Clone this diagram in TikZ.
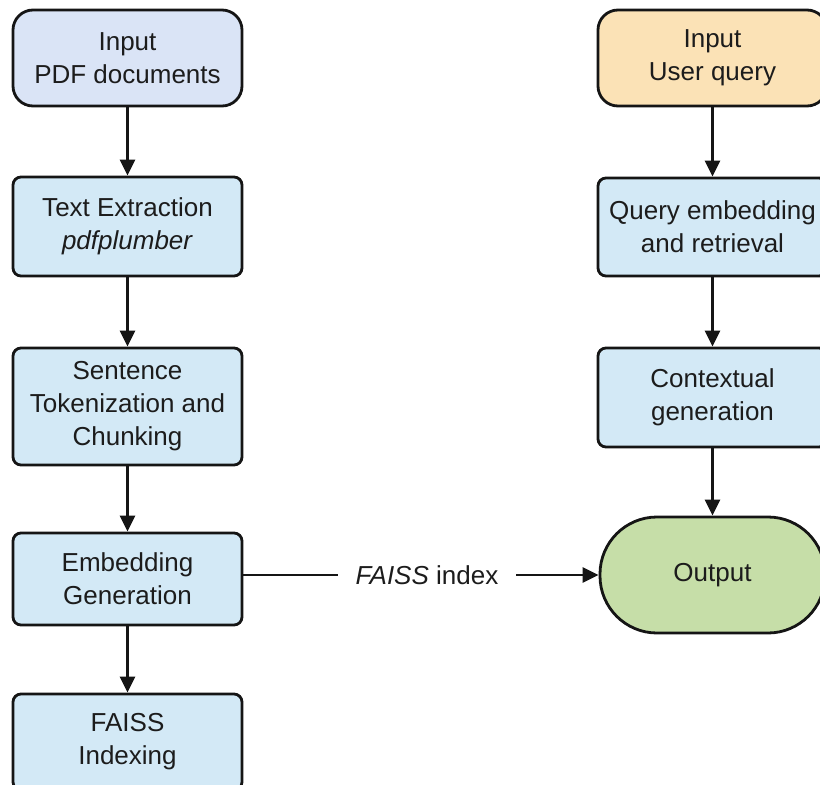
\documentclass[tikz,border=0pt]{standalone}
\usepackage{fontspec}
\setmainfont{Liberation Sans}
\usetikzlibrary{arrows.meta}
\definecolor{pdfblue}{HTML}{DAE4F6}
\definecolor{stepblue}{HTML}{D3E9F6}
\definecolor{queryorange}{HTML}{FBE2B6}
\definecolor{outgreen}{HTML}{C6DEA8}
\definecolor{edge}{HTML}{151515}
\definecolor{txt}{HTML}{1C1C1C}
\tikzset{
  box/.style={draw=edge, line width=2.8pt, fill=stepblue, rounded corners=8pt,
    minimum width=229pt, align=center, inner sep=0pt, text=txt,
    font=\fontsize{26pt}{33pt}\selectfont},
  inbox/.style={box, rounded corners=20pt},
  outbox/.style={box, fill=outgreen, rounded corners=57pt, minimum width=225pt},
  flow/.style={draw=edge, line width=2.8pt, -{Triangle[length=16pt,width=15pt]}},
  plain/.style={draw=edge, line width=2.8pt},
  lbl/.style={inner xsep=18pt, inner ysep=2pt, text=txt, font=\fontsize{26pt}{33pt}\selectfont}
}
\begin{document}
\begin{tikzpicture}[x=1pt,y=-1pt]
\useasboundingbox (0,0) rectangle (820,785);
\clip (0,0) rectangle (820,785);
\fill[white] (0,0) rectangle (820,785);
% left column
\node[inbox, fill=pdfblue, minimum height=96pt] (pdf) at (127.5,58) {Input\\PDF documents};
\node[box, minimum height=99pt] (extr) at (127.5,226.5) {Text Extraction\\\textit{pdfplumber}};
\node[box, minimum height=117pt] (tok) at (127.5,406.5) {Sentence\\Tokenization and\\Chunking};
\node[box, minimum height=92pt] (emb) at (127.5,579) {Embedding\\Generation};
\node[box, minimum height=96pt] (faiss) at (127.5,742) {FAISS\\Indexing};
% right column
\node[inbox, fill=queryorange, minimum height=96pt] (query) at (712.5,58) {Input\\User query};
\node[box, minimum height=98pt] (qemb) at (712.5,227) {Query embedding\\and retrieval};
\node[box, minimum height=99pt] (ctx) at (712.5,397.5) {Contextual\\generation};
\node[outbox, minimum height=116pt] (out) at (712.5,575) {Output};
% label
\node[lbl] (idx) at (427,575) {\textit{FAISS} index};
% connectors
\draw[flow] (pdf) -- (extr);
\draw[flow] (extr) -- (tok);
\draw[flow] (tok) -- (emb);
\draw[flow] (emb) -- (faiss);
\draw[flow] (query) -- (qemb);
\draw[flow] (qemb) -- (ctx);
\draw[flow] (ctx) -- (out);
\draw[plain] (emb.east |- idx.west) -- (idx.west);
\draw[flow] (idx.east) -- (out.west);
\end{tikzpicture}
\end{document}
